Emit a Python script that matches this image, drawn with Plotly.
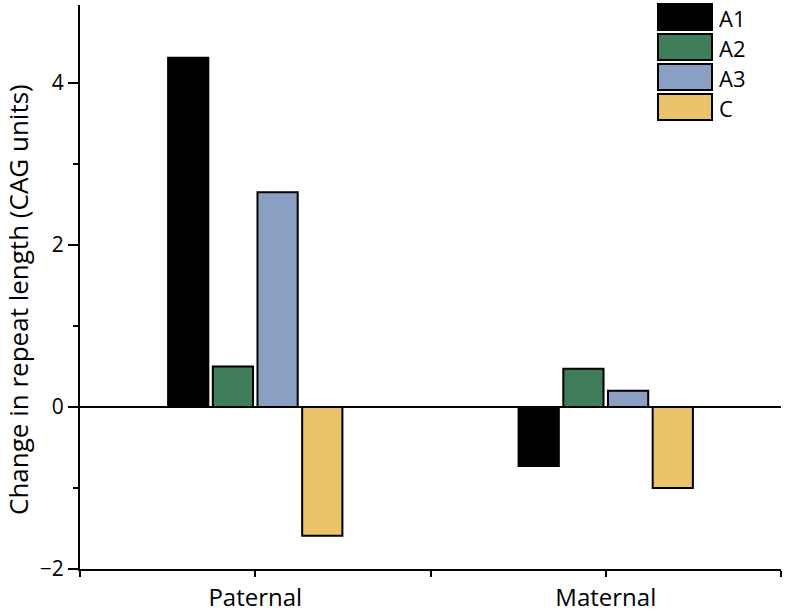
import plotly.graph_objects as go

categories = ["Paternal", "Maternal"]
series_names = ["A1", "A2", "A3", "C"]
A1 = [4.31, -0.73]
A2 = [0.50, 0.47]
A3 = [2.65, 0.20]
C = [-1.59, -1.00]
colors = ["#000000", "#3f7d5a", "#8aa0c2", "#e9c46a"]
y_ticks = [-2, 0, 2, 4]
y_minor = [-1, 1, 3]
y_title = "Change in repeat length (CAG units)"

values = [A1, A2, A3, C]
xs = list(range(len(categories)))

fig = go.Figure()
for name, vals, col in zip(series_names, values, colors):
    fig.add_trace(go.Bar(
        x=xs, y=vals, name=name,
        marker=dict(color=col, line=dict(color="#000000", width=2)),
        showlegend=False,
    ))

W, H = 785, 612
L, R, T, B = 80, 4, 5, 43
pw, ph = W - L - R, H - T - B
def px(x):
    return (x - L) / pw
def py(y):
    return (H - B - y) / ph

# custom legend with large swatches
for i, (name, col) in enumerate(zip(series_names, colors)):
    top = 4 + 30 * i
    fig.add_shape(type="rect", xref="paper", yref="paper",
                  x0=px(658), x1=px(712), y0=py(top + 26), y1=py(top),
                  fillcolor=col, line=dict(color="#000000", width=2))
    fig.add_annotation(xref="paper", yref="paper", x=px(717), y=py(top + 14),
                       text=name, showarrow=False, xanchor="left", yanchor="middle",
                       font=dict(size=22, color="#000000", family="Open Sans"))

# y-axis title
fig.add_annotation(xref="paper", yref="paper", x=px(18), y=py(300),
                   text=y_title, textangle=-90, showarrow=False,
                   xanchor="center", yanchor="middle",
                   font=dict(size=26, color="#000000", family="Open Sans"))

fig.update_layout(
    width=W, height=H,
    margin=dict(l=L, r=R, t=T, b=B, autoexpand=False),
    paper_bgcolor="white", plot_bgcolor="white",
    barmode="group", bargap=0.49, bargroupgap=0.1,
    font=dict(family="Open Sans", color="#000000", size=20),
)
fig.update_xaxes(
    range=[-0.5, 1.5],
    tickmode="array",
    tickvals=[-0.5, 0, 0.5, 1, 1.5],
    ticktext=["", categories[0], "", categories[1], ""],
    ticks="outside", ticklen=6, tickwidth=2, tickcolor="#000000",
    showline=True, linecolor="#000000", linewidth=2,
    showgrid=False, zeroline=False, automargin=False,
    tickfont=dict(size=24),
)
fig.update_yaxes(
    range=[-2, 4.96],
    tickmode="array", tickvals=y_ticks,
    ticktext=["\u22122" if v < 0 else str(v) for v in y_ticks],
    ticks="outside", ticklen=10, tickwidth=2, tickcolor="#000000",
    minor=dict(tickmode="array", tickvals=y_minor, ticks="outside",
               ticklen=5, tickwidth=2, tickcolor="#000000"),
    showline=True, linecolor="#000000", linewidth=2,
    showgrid=False, automargin=False,
    zeroline=True, zerolinecolor="#000000", zerolinewidth=2,
    tickfont=dict(size=21),
)

fig.write_html("out.html", config={"displayModeBar": False},
               post_script="document.body.style.margin='0';")
